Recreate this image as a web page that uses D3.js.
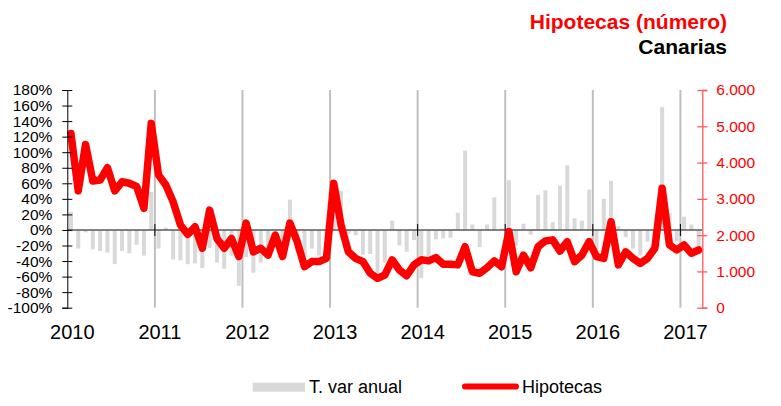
<!DOCTYPE html>
<html><head><meta charset="utf-8">
<script src="https://cdn.jsdelivr.net/npm/d3@7"></script>
<style>
body{margin:0;background:#fff}
svg{display:block}
text{font-family:"Liberation Sans",Arial,Helvetica,sans-serif}
</style>
</head><body>
<svg id="c" width="781" height="406"></svg>
<script>
// ---- data ----
const yearLabels = ["2010","2011","2012","2013","2014","2015","2016","2017"];
const monthsPerYear = [12,12,12,12,12,12,12,3];
const hipotecas = [
  4800,3220,4500,3490,3520,3860,3220,3470,3430,3340,2740,5080,
  3660,3380,2920,2280,2020,2230,1640,2690,1910,1640,1910,1410,
  2330,1540,1640,1450,2000,1410,2330,1820,1130,1270,1270,1360,
  3430,2280,1540,1360,1270,950,810,900,1320,1040,880,1180,
  1320,1290,1380,1200,1200,1180,1680,990,950,1100,1290,1130,
  2100,990,1450,1100,1680,1840,1870,1560,1820,1270,1450,1820,
  1410,1360,2370,1180,1540,1360,1220,1360,1640,3290,1730,1590,
  1730,1500,1590
];
const varAnual = [
  23,-24,-3,-25,-27,-29,-44,-27,-30,-19,-33,49,
  -24,3,-38,-39,-44,-43,-49,-23,-42,-50,-33,-72,
  -35,-55,-42,-33,-2,-36,39,-28,-35,-24,-33,-4,
  47,50,-5,-7,-32,-31,-57,-42,12,-20,-28,-13,
  -62,-41,-12,-11,-10,22,102,7,-22,7,42,2,
  64,-20,8,-6,45,51,10,57,83,15,12,52,
  -30,40,63,5,-9,-24,-33,-15,-10,158,22,-15,
  17,7,-30
];
const leftTicks = [-100,-80,-60,-40,-20,0,20,40,60,80,100,120,140,160,180];
const rightTicks = [0,1000,2000,3000,4000,5000,6000];
const rightTickLabels = ["0","1.000","2.000","3.000","4.000","5.000","6.000"];
const titleText = "Hipotecas (número)";
const subtitleText = "Canarias";
const legendBar = "T. var anual";
const legendLine = "Hipotecas";

// categories (month keys)
const months = [];
yearLabels.forEach((y,i)=>{ for(let m=1;m<=monthsPerYear[i];m++) months.push(y+"-"+String(m).padStart(2,"0")); });

const svg = d3.select("#c");
const X0 = 67.3, X1 = 702.3, YT = 90, YB = 307.7;

const pad = 0.45;
const x = d3.scaleBand().domain(months).range([X0, X1]).paddingInner(pad).paddingOuter(pad/2);
const step = x.step();
const xc = d => x(d) + x.bandwidth()/2;
const xEdge = d => x(d) - step*pad/2;

const yL = d3.scaleLinear().domain([-100,180]).range([YB, YT]);
const yR = d3.scaleLinear().domain([0,6000]).range([YB, YT]);

// vertical year gridlines
const yearStarts = yearLabels.slice(1).map(y => y+"-01");
svg.append("g").selectAll("line").data(yearStarts).join("line")
  .attr("x1", xEdge).attr("x2", xEdge)
  .attr("y1", YT).attr("y2", YB)
  .attr("stroke", "#bfbfbf").attr("stroke-width", 2);

// bars
svg.append("g").selectAll("rect").data(months).join("rect")
  .attr("x", d => x(d))
  .attr("width", x.bandwidth())
  .attr("y", (d,i) => Math.min(yL(varAnual[i]), yL(0)))
  .attr("height", (d,i) => Math.abs(yL(varAnual[i]) - yL(0)))
  .attr("fill", "#d9d9d9");

// zero line
svg.append("line").attr("x1", X0).attr("x2", X1).attr("y1", yL(0)).attr("y2", yL(0))
  .attr("stroke", "#595959").attr("stroke-width", 1.5);
// year ticks on zero line
svg.append("g").selectAll("line").data(yearStarts).join("line")
  .attr("x1", xEdge).attr("x2", xEdge)
  .attr("y1", yL(0)-6).attr("y2", yL(0)+6)
  .attr("stroke", "#000").attr("stroke-width", 1);

// line
const line = d3.line().x((d,i) => xc(months[i])).y(d => yR(d)).curve(d3.curveLinear);
svg.append("path").datum(hipotecas)
  .attr("d", line).attr("fill", "none")
  .attr("stroke", "#ff0000").attr("stroke-width", 7.5)
  .attr("stroke-linejoin", "round").attr("stroke-linecap", "round");

// left axis
const gL = svg.append("g").attr("transform", `translate(${X0},0)`)
  .call(d3.axisLeft(yL).tickValues(leftTicks).tickFormat(d => d + "%").tickSizeOuter(0).tickSize(5).tickPadding(10));
gL.select(".domain").attr("stroke", "#000");
gL.selectAll(".tick line").attr("x1", -5).attr("x2", 5).attr("stroke", "#000");
gL.selectAll(".tick text").attr("font-size", 15.5).attr("fill", "#000").attr("font-family", "Liberation Sans, Arial, sans-serif");

// right axis
const gR = svg.append("g").attr("transform", `translate(${X1},0)`)
  .call(d3.axisRight(yR).tickValues(rightTicks).tickFormat((d,i) => rightTickLabels[i]).tickSizeOuter(0).tickSize(5).tickPadding(9));
gR.select(".domain").attr("stroke", "#ff5a5a").attr("stroke-width", 1.3);
gR.selectAll(".tick line").attr("x1", -5).attr("x2", 5).attr("stroke", "#ff5a5a").attr("stroke-width", 1.3);
gR.selectAll(".tick text").attr("font-size", 15.5).attr("fill", "#ff0000").attr("font-family", "Liberation Sans, Arial, sans-serif");

// year labels
svg.append("g").selectAll("text").data(yearLabels).join("text")
  .attr("x", d => xEdge(d+"-01") + 5)
  .attr("y", 339)
  .attr("text-anchor", "middle")
  .attr("font-size", 20)
  .attr("fill", "#000")
  .text(d => d);

// title
svg.append("text").attr("x", 727).attr("y", 29).attr("text-anchor", "end")
  .attr("font-size", 21).attr("font-weight", "bold").attr("fill", "#ff0000").text(titleText);
svg.append("text").attr("x", 727).attr("y", 54).attr("text-anchor", "end")
  .attr("font-size", 21).attr("font-weight", "bold").attr("fill", "#000").text(subtitleText);

// legend
svg.append("rect").attr("x", 252.7).attr("y", 382.7).attr("width", 52.3).attr("height", 9).attr("fill", "#d9d9d9");
svg.append("text").attr("x", 309).attr("y", 392.5).attr("font-size", 18).attr("fill", "#000").text(legendBar);
svg.append("line").attr("x1", 465).attr("x2", 516).attr("y1", 386.5).attr("y2", 386.5)
  .attr("stroke", "#ff0000").attr("stroke-width", 6).attr("stroke-linecap", "round");
svg.append("text").attr("x", 522).attr("y", 392.5).attr("font-size", 18).attr("fill", "#000").text(legendLine);
</script>
</body></html>
